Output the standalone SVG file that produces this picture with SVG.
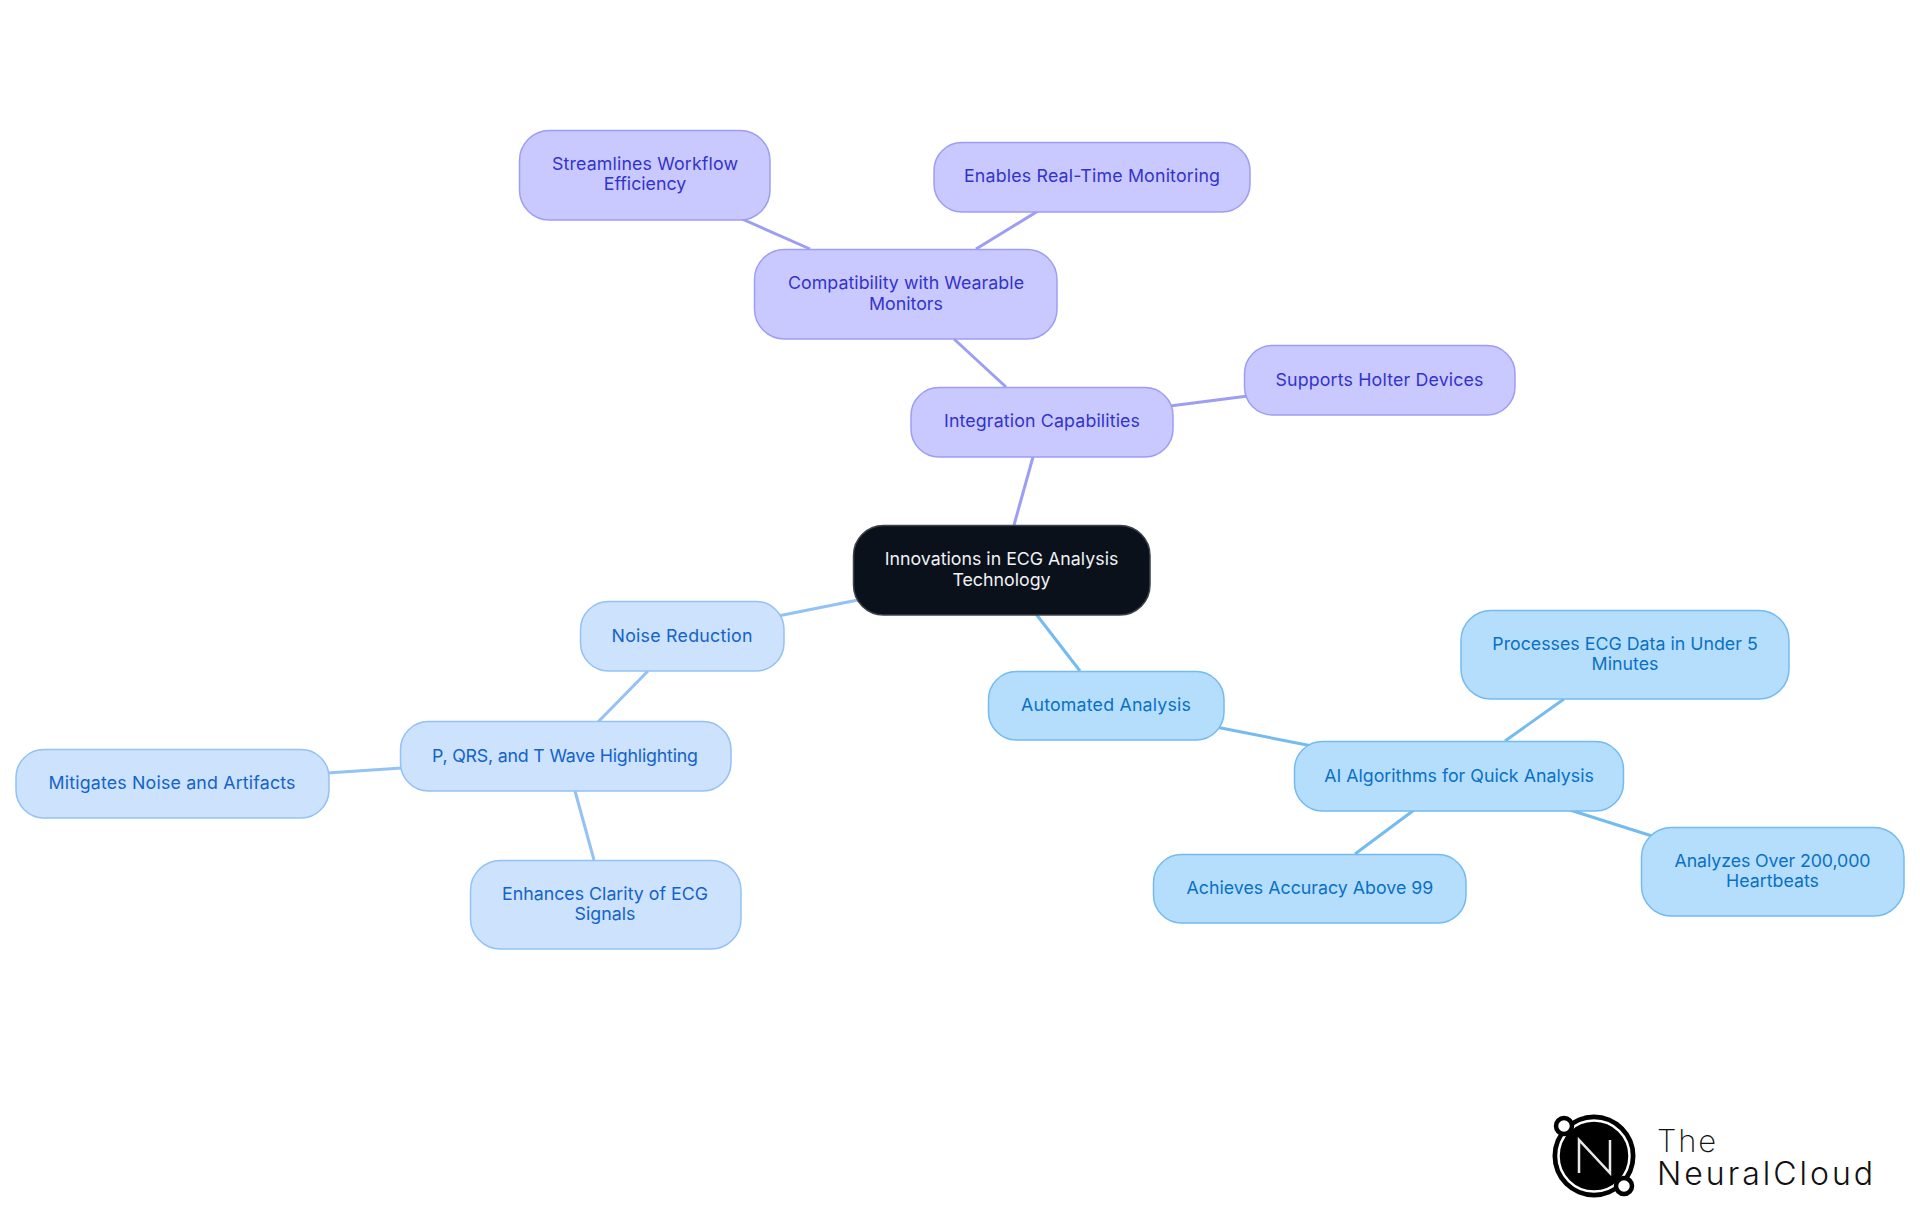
<svg xmlns="http://www.w3.org/2000/svg" width="1920" height="1215" viewBox="0 0 1920 1215">
<style>
text{font-family:Inter,"Noto Sans",sans-serif;font-size:17.8px;text-anchor:middle}
.c line{stroke-width:3;fill:none}
.n rect{stroke-width:1.5}
.p rect{fill:#c9c9ff;stroke:#9d9df5}.p text{fill:#3333cc}
.b rect{fill:#cce2fd;stroke:#93c2f5}.b text{fill:#1463c8}
.s rect{fill:#b5defd;stroke:#74bbf0}.s text{fill:#0a70c4}
.lp{stroke:#9d9df5}.lb{stroke:#93c2f5}.ls{stroke:#74bbf0}
</style>
<rect width="1920" height="1215" fill="#fff"/>
<g id="connectors" class="c">
<line class="lp" x1="1014" y1="525" x2="1033" y2="457"/>
<line class="lp" x1="1006" y1="387" x2="954" y2="339"/>
<line class="lp" x1="1170" y1="406" x2="1248" y2="396"/>
<line class="lp" x1="810" y1="249" x2="742" y2="219"/>
<line class="lp" x1="976" y1="249" x2="1038" y2="211"/>
<line class="lb" x1="858" y1="600" x2="778" y2="616"/>
<line class="lb" x1="648" y1="671" x2="598" y2="722"/>
<line class="lb" x1="402" y1="768" x2="327" y2="773"/>
<line class="lb" x1="575" y1="791" x2="594" y2="860"/>
<line class="ls" x1="1036" y1="614" x2="1080" y2="671"/>
<line class="ls" x1="1216" y1="727" x2="1312" y2="746"/>
<line class="ls" x1="1505" y1="741" x2="1564" y2="699"/>
<line class="ls" x1="1414" y1="810" x2="1355" y2="854"/>
<line class="ls" x1="1570" y1="810" x2="1652" y2="836"/>
</g>
<g id="root" class="n"><rect x="853.5" y="525.5" width="296.5" height="89.500" rx="30" fill="#0b111b" stroke="#3e434b"/><text x="1001.5" y="565" fill="#f0f2f5">Innovations in ECG Analysis</text><text x="1001.5" y="586" fill="#f0f2f5">Technology</text></g>
<g id="integration" class="n p"><rect x="911" y="387.500" width="262" height="69.500" rx="28"/><text x="1042" y="427" textLength="196">Integration Capabilities</text></g>
<g id="compat" class="n p"><rect x="754.5" y="249.500" width="302.500" height="89.500" rx="30"/><text x="906" y="289" textLength="236">Compatibility with Wearable</text><text x="906" y="310">Monitors</text></g>
<g id="streamlines" class="n p"><rect x="519.5" y="130.500" width="250.500" height="89.500" rx="30"/><text x="645" y="170" textLength="186">Streamlines Workflow</text><text x="645" y="190">Efficiency</text></g>
<g id="enables" class="n p"><rect x="934" y="142.500" width="316" height="69.500" rx="28"/><text x="1092" y="182" textLength="256">Enables Real-Time Monitoring</text></g>
<g id="supports" class="n p"><rect x="1244.500" y="345.500" width="270.500" height="69.500" rx="28"/><text x="1379.500" y="386" textLength="208">Supports Holter Devices</text></g>
<g id="noise" class="n b"><rect x="580.500" y="601.500" width="203.500" height="69.500" rx="28"/><text x="682" y="642" textLength="141">Noise Reduction</text></g>
<g id="pqrs" class="n b"><rect x="400.500" y="721.500" width="330.500" height="69.500" rx="28"/><text x="565" y="762" textLength="266">P, QRS, and T Wave Highlighting</text></g>
<g id="mitigates" class="n b"><rect x="16" y="749.500" width="313" height="68.500" rx="28"/><text x="172" y="789" textLength="247">Mitigates Noise and Artifacts</text></g>
<g id="enhances" class="n b"><rect x="470.500" y="860.500" width="270.500" height="88.500" rx="30"/><text x="605" y="900">Enhances Clarity of ECG</text><text x="605" y="920">Signals</text></g>
<g id="automated" class="n s"><rect x="988.500" y="671.500" width="235.500" height="68.500" rx="28"/><text x="1106" y="711" textLength="170">Automated Analysis</text></g>
<g id="ai" class="n s"><rect x="1294.500" y="741.500" width="329" height="69.500" rx="28"/><text x="1459" y="782">AI Algorithms for Quick Analysis</text></g>
<g id="processes" class="n s"><rect x="1461" y="610.500" width="328" height="88.500" rx="30"/><text x="1625" y="650">Processes ECG Data in Under 5</text><text x="1625" y="670">Minutes</text></g>
<g id="achieves" class="n s"><rect x="1153.500" y="854.500" width="312.500" height="68.500" rx="28"/><text x="1310" y="894">Achieves Accuracy Above 99</text></g>
<g id="analyzes" class="n s"><rect x="1641.500" y="827.500" width="262.500" height="88.500" rx="30"/><text x="1772.500" y="867" textLength="196">Analyzes Over 200,000</text><text x="1772.500" y="887">Heartbeats</text></g>
<g id="logo">
<circle cx="1594" cy="1156" r="41.500" fill="#000"/>
<circle cx="1594" cy="1156" r="35.500" fill="none" stroke="#fff" stroke-width="2.500"/>
<path d="M1579 1173V1140L1610 1173V1140" fill="none" stroke="#e8e8e8" stroke-width="2.500"/>
<circle cx="1564" cy="1126" r="8" fill="#fff" stroke="#000" stroke-width="4.500"/>
<circle cx="1624" cy="1186" r="8" fill="#fff" stroke="#000" stroke-width="4.500"/>
<text x="1657" y="1152" textLength="59" style="font-size:31px;font-weight:200;text-anchor:start;fill:#111">The</text>
<text x="1657" y="1185" textLength="216" style="font-size:32px;font-weight:350;text-anchor:start;fill:#111">NeuralCloud</text>
</g>
</svg>
